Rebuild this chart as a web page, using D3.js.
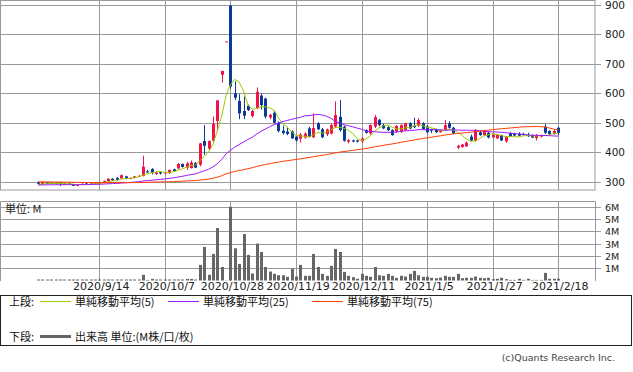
<!DOCTYPE html>
<html><head><meta charset="utf-8">
<script src="https://cdn.jsdelivr.net/npm/d3@7"></script>
<style>
html,body{margin:0;padding:0;background:#fff;}
svg{display:block;font-family:"DejaVu Sans","Noto Sans CJK JP",sans-serif;}
</style></head><body>
<svg id="c" width="633" height="372"></svg>
<script>
const dates = ["2020/8/25","2020/8/26","2020/8/27","2020/8/28","2020/8/31",
"2020/9/1","2020/9/2","2020/9/3","2020/9/4","2020/9/7","2020/9/8","2020/9/9","2020/9/10","2020/9/11",
"2020/9/14","2020/9/15","2020/9/16","2020/9/17","2020/9/18","2020/9/23","2020/9/24","2020/9/25","2020/9/28","2020/9/29","2020/9/30",
"2020/10/1","2020/10/2","2020/10/5","2020/10/6","2020/10/7","2020/10/8","2020/10/9","2020/10/12","2020/10/13","2020/10/14","2020/10/15","2020/10/16","2020/10/19","2020/10/20","2020/10/21","2020/10/22","2020/10/23","2020/10/26","2020/10/27","2020/10/28",
"2020/10/29","2020/10/30","2020/11/2","2020/11/4","2020/11/5","2020/11/6","2020/11/9","2020/11/10","2020/11/11","2020/11/12","2020/11/13","2020/11/16","2020/11/17","2020/11/18","2020/11/19",
"2020/11/20","2020/11/24","2020/11/25","2020/11/26","2020/11/27","2020/11/30","2020/12/1","2020/12/2","2020/12/3","2020/12/4","2020/12/7","2020/12/8","2020/12/9","2020/12/10","2020/12/11",
"2020/12/14","2020/12/15","2020/12/16","2020/12/17","2020/12/18","2020/12/21","2020/12/22","2020/12/23","2020/12/24","2020/12/25","2020/12/28","2020/12/29","2020/12/30","2021/1/4","2021/1/5",
"2021/1/6","2021/1/7","2021/1/8","2021/1/12","2021/1/13","2021/1/14","2021/1/15","2021/1/18","2021/1/19","2021/1/20","2021/1/21","2021/1/22","2021/1/25","2021/1/26","2021/1/27",
"2021/1/28","2021/1/29","2021/2/1","2021/2/2","2021/2/3","2021/2/4","2021/2/5","2021/2/8","2021/2/9","2021/2/10","2021/2/12","2021/2/15","2021/2/16","2021/2/17","2021/2/18"];

const open = [298,292,296,294,295,297,291,294,292,286,
289,294,291,294,295,298,302,310,313,311,
318,310,313,318,320,335,343,326,332,329,
329,342,345,360,348,346,364,358,438,412,
439,506,663,776,898,600,574,540,558,523,
550,592,582,518,534,500,473,470,470,453,
446,450,481,451,498,478,461,464,487,520,
487,436,440,440,437,475,464,487,510,492,
485,475,470,470,475,498,490,490,498,488,
477,477,468,475,498,483,416,418,420,453,
438,468,458,466,450,447,458,437,465,462,
462,462,458,458,448,453,487,472,462,483];

const high = [300,299,298,297,296,298,295,295,293,291,
294,296,295,297,300,304,312,312,315,325,
320,314,320,322,388,340,346,334,334,333,
341,344,363,362,367,372,366,432,492,440,
521,577,676,776,900,640,597,589,562,545,
620,600,585,530,540,505,490,485,474,456,
465,468,486,532,502,482,480,496,572,577,
490,445,443,442,450,478,495,526,513,497,
488,478,492,495,500,502,517,515,502,492,
480,480,477,509,505,486,425,428,437,460,
478,472,476,470,463,462,460,455,468,466,
468,466,466,460,462,460,495,475,475,487];

const low = [292,290,292,292,291,286,289,290,285,285,
288,290,290,292,294,297,300,303,304,310,
308,308,311,316,318,330,325,323,324,326,
327,334,343,348,340,345,346,352,391,408,
436,470,636,776,616,577,512,512,540,518,
546,545,515,512,498,468,460,458,445,436,
433,446,450,448,475,448,455,460,482,470,
436,430,434,433,432,463,460,482,488,478,
472,456,466,466,472,478,482,486,476,464,
465,465,466,472,480,462,410,415,418,437,
436,456,455,447,448,445,438,432,452,455,
454,457,452,448,440,450,462,458,460,458];

const close = [293,297,294,295,293,291,293,292,286,290,
293,291,294,296,299,302,310,305,306,322,
310,313,318,320,351,333,330,331,328,331,
340,336,360,350,362,365,348,430,422,438,
496,576,676,776,623,585,532,524,543,540,
605,560,521,527,500,472,465,462,447,440,
460,463,452,482,478,451,477,492,526,475,
439,441,436,436,447,466,492,519,492,481,
475,458,489,492,498,481,485,509,479,468,
473,468,475,492,483,464,422,426,432,440,
475,458,473,450,460,460,440,452,455,457,
456,459,455,450,458,457,466,462,472,466];

// volume in millions
const volume = [0.08,0.08,0.08,0.08,0.08,0.08,0.08,0.08,0.08,0.08,
0.08,0.08,0.08,0.08,0.08,0.08,0.08,0.08,0.08,0.08,
0.08,0.08,0.08,0.08,0.46,0.05,0.13,0.08,0.08,0.08,
0.08,0.08,0.08,0.08,0.13,0.13,0.08,1.27,2.73,0.46,
2.16,4.27,1.10,0.02,6.00,2.62,1.35,3.78,2.08,0.57,
3.00,2.32,1.10,0.73,0.54,0.43,0.43,0.30,0.95,0.32,
1.27,0.38,0.38,2.16,1.10,0.54,0.38,1.19,2.57,2.32,
0.70,0.38,0.27,0.14,0.54,0.38,0.30,1.10,0.43,0.38,
0.54,0.38,0.22,0.38,0.32,0.54,0.78,0.43,0.30,0.30,
0.22,0.19,0.24,0.38,0.30,0.30,0.54,0.19,0.22,0.22,
0.32,0.22,0.19,0.22,0.11,0.14,0.22,0.11,0.05,0.05,
0.14,0.05,0.14,0.05,0.05,0.05,0.62,0.14,0.14,0.14];

// closes before the first visible day (estimated from the starting levels of the averages)
const earlierCloses = [306,308,310,309,311,312,310,308,307,309,
311,313,312,310,308,306,305,307,309,310,
308,306,304,305,307,308,306,304,303,305,
306,304,302,303,305,304,302,300,301,303,
302,300,298,299,301,300,298,296,295,297,
292,290,289,291,290,288,287,289,290,288,
287,286,288,289,287,286,288,290,289,287,
288,290,289,291];

const priceTicks = [300,400,500,600,700,800,900];
const volumeTicks = [1,2,3,4,5,6];
const volumeTickLabels = ["1M","2M","3M","4M","5M","6M"];
const dateTicks = ["2020/9/14","2020/10/7","2020/10/28","2020/11/19","2020/12/11","2021/1/5","2021/1/27","2021/2/18"];
const maPeriods = [5,25,75];
const maNames = ["単純移動平均(5)","単純移動平均(25)","単純移動平均(75)"];
const maColors = ["#99cc00","#9a1aff","#ff3c00"];

const svg = d3.select("#c");
const plotR = 595, priceBot = 190, volTop = 201, volBot = 281;
const grid = "#999999";
const upColor = "#f3124a", downColor = "#0c3a98";

const x = d3.scalePoint().domain(dates).range([38.1, 558.2]);
const y = d3.scaleLinear().domain([271.8, 916.7]).range([190, 0]);
const yv = d3.scaleLinear().domain([0, 6.47]).range([280.5, 201]);
const crisp = v => Math.round(v) + 0.5;

// clip
const defs = svg.append("defs");
defs.append("clipPath").attr("id","pc").append("rect").attr("x",0).attr("y",0).attr("width",plotR).attr("height",priceBot);

// price gridlines
const g = svg.append("g");
g.selectAll(".hg").data(priceTicks).join("line")
  .attr("x1",0).attr("x2",plotR).attr("y1",d=>crisp(y(d))).attr("y2",d=>crisp(y(d)))
  .attr("stroke",grid).attr("stroke-width",1);
g.selectAll(".vg").data(dateTicks).join("line")
  .attr("x1",d=>crisp(x(d))).attr("x2",d=>crisp(x(d))).attr("y1",0).attr("y2",priceBot)
  .attr("stroke",grid);
g.append("rect").attr("x",0.5).attr("y",0.5).attr("width",plotR-0.5).attr("height",priceBot-0.5)
  .attr("fill","none").attr("stroke",grid);

// volume gridlines
g.selectAll(".hv").data(volumeTicks).join("line")
  .attr("x1",0).attr("x2",plotR).attr("y1",d=>crisp(yv(d))).attr("y2",d=>crisp(yv(d)))
  .attr("stroke",grid);
g.selectAll(".vv").data(dateTicks).join("line")
  .attr("x1",d=>crisp(x(d))).attr("x2",d=>crisp(x(d))).attr("y1",volTop).attr("y2",volBot)
  .attr("stroke",grid);
g.append("path").attr("d",`M0.5,${volBot}V${volTop+0.5}H${plotR+0.5}V${volBot}`)
  .attr("fill","none").attr("stroke",grid);

// right axes
const pAxis = d3.axisRight(y).tickValues(priceTicks).tickSize(6).tickPadding(4).tickFormat(d3.format("d"));
const pa = svg.append("g").attr("transform",`translate(${plotR},0)`).call(pAxis);
pa.select(".domain").remove();
pa.selectAll(".tick line").attr("stroke",grid);
pa.selectAll(".tick").attr("transform",d=>`translate(0,${crisp(y(d))})`);
pa.selectAll("text").attr("font-size",10.5).attr("fill","#222").attr("font-family","DejaVu Sans");

const vAxis = d3.axisRight(yv).tickValues(volumeTicks).tickSize(6).tickPadding(4).tickFormat((d,i)=>volumeTickLabels[i]);
const va = svg.append("g").attr("transform",`translate(${plotR},0)`).call(vAxis);
va.select(".domain").remove();
va.selectAll(".tick line").attr("stroke",grid);
va.selectAll(".tick").attr("transform",d=>`translate(0,${crisp(yv(d))})`);
va.selectAll("text").attr("font-size",9.5).attr("fill","#222").attr("font-family","DejaVu Sans");

// date labels
svg.selectAll(".dl").data(dateTicks).join("text")
  .attr("x",d=>x(d)+2).attr("y",290).attr("text-anchor","middle")
  .attr("font-size",11).attr("fill","#222").attr("font-family","DejaVu Sans").text(d=>d);

svg.append("text").attr("x",5).attr("y",213).attr("font-size",11).attr("fill","#222")
  .attr("font-family","Noto Sans CJK JP").text("単位: M");

// candles
const cg = svg.append("g").attr("clip-path","url(#pc)");
const idx = d3.range(dates.length);
cg.selectAll(".wick").data(idx).join("line")
  .attr("x1",i=>crisp(x(dates[i]))).attr("x2",i=>crisp(x(dates[i])))
  .attr("y1",i=>y(high[i])).attr("y2",i=>y(low[i]))
  .attr("stroke",i=>close[i]>=open[i]?upColor:downColor).attr("stroke-width",1);
cg.selectAll(".body").data(idx).join("rect")
  .attr("x",i=>Math.round(x(dates[i]))-1).attr("width",3)
  .attr("y",i=>y(Math.max(open[i],close[i])))
  .attr("height",i=>Math.max(1,Math.abs(y(open[i])-y(close[i]))))
  .attr("fill",i=>close[i]>=open[i]?upColor:downColor);

// moving averages
const allCloses = earlierCloses.concat(close);
const off = earlierCloses.length;
maPeriods.forEach((p,k)=>{
  const vals = idx.map(i=>d3.mean(allCloses.slice(off+i-p+1, off+i+1)));
  const line = d3.line().x((v,i)=>x(dates[i])).y(v=>y(v));
  cg.append("path").datum(vals).attr("d",line).attr("fill","none")
    .attr("stroke",maColors[k]).attr("stroke-width",1);
});

// volume bars
svg.append("g").selectAll("rect").data(idx).join("rect")
  .attr("x",i=>Math.round(x(dates[i]))-1).attr("width",3)
  .attr("y",i=>yv(volume[i])).attr("height",i=>yv(0)-yv(volume[i]))
  .attr("fill","#666666");

// legend
const lg = svg.append("g").attr("font-family","Noto Sans CJK JP").attr("font-size",11).attr("fill","#111");
lg.append("rect").attr("x",0.5).attr("y",295.5).attr("width",631).attr("height",50).attr("fill","none").attr("stroke","#222");
lg.append("text").attr("x",9).attr("y",306).text("上段:");
const lx = [40,168,312];
maNames.forEach((n,k)=>{
  lg.append("line").attr("x1",lx[k]).attr("x2",lx[k]+31).attr("y1",301.5).attr("y2",301.5).attr("stroke",maColors[k]);
  lg.append("text").attr("x",lx[k]+35).attr("y",306).text(n);
});
lg.append("text").attr("x",9).attr("y",341).text("下段:");
lg.append("line").attr("x1",40).attr("x2",71).attr("y1",336.5).attr("y2",336.5).attr("stroke","#666").attr("stroke-width",3);
lg.append("text").attr("x",75).attr("y",341).text("出来高 単位:(M株/口/枚)");

svg.append("text").attr("x",615).attr("y",361).attr("text-anchor","end")
  .attr("font-size",9.5).attr("fill","#444").attr("font-family","DejaVu Sans").text("(c)Quants Research Inc.");
</script>
</body></html>
